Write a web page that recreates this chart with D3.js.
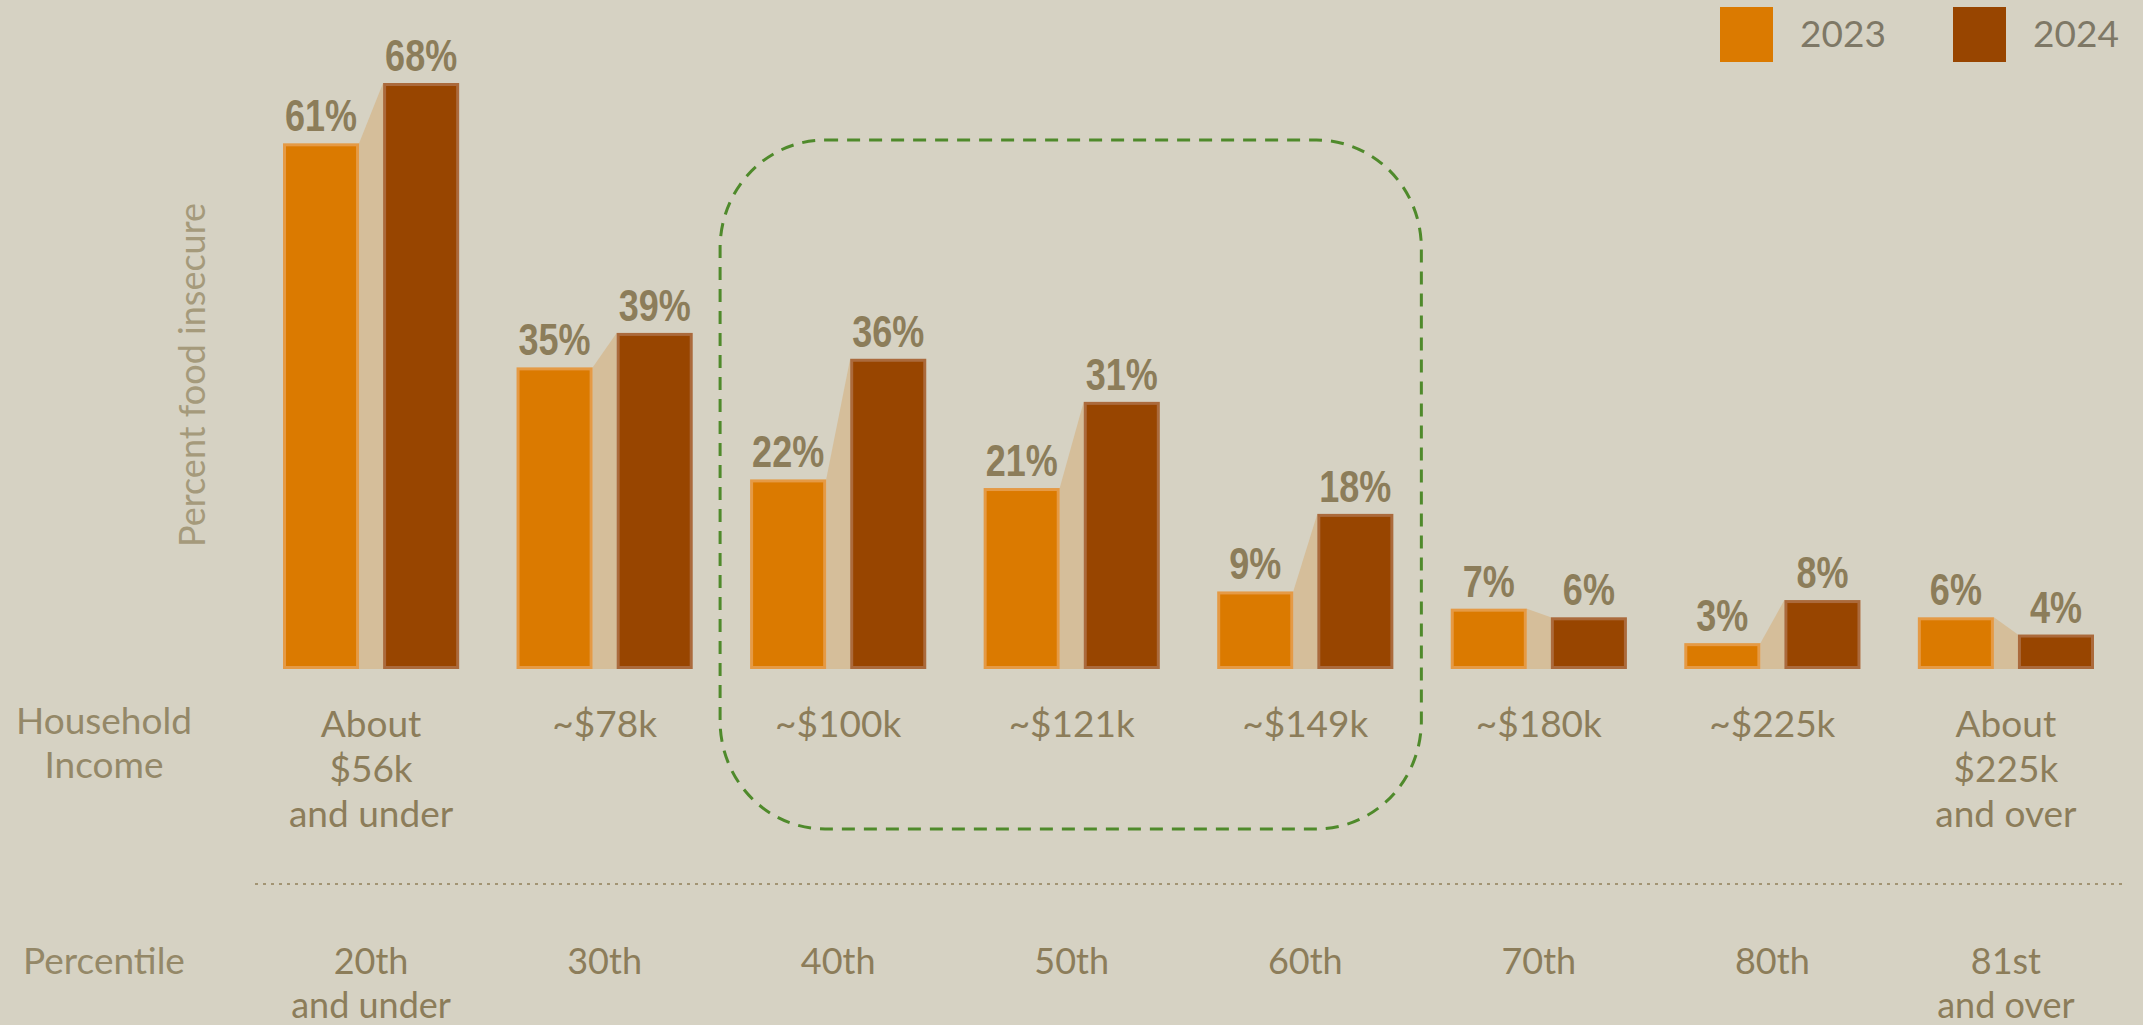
<!DOCTYPE html>
<html>
<head>
<meta charset="utf-8">
<script src="https://cdn.jsdelivr.net/npm/d3@7"></script>
<style>
  html, body { margin: 0; padding: 0; background: #d6d2c3; overflow: hidden; }
  svg { display: block; }
</style>
</head>
<body>
<svg id="chart" width="2143" height="1025"></svg>
<script>
const groupKeys = ["g1","g2","g3","g4","g5","g6","g7","g8"];
const incomeLabels = [["About","$56k","and under"],["~$78k"],["~$100k"],["~$121k"],["~$149k"],["~$180k"],["~$225k"],["About","$225k","and over"]];
const percentileLabels = [["20th","and under"],["30th"],["40th"],["50th"],["60th"],["70th"],["80th"],["81st","and over"]];
const seriesNames = ["2023","2024"];
const values2023 = [61,35,22,21,9,7,3,6];
const values2024 = [68,39,36,31,18,6,8,4];
const highlighted = ["g3","g4","g5"];

const colors = {"2023":"#db7a00","2024":"#984500"};
const edgeColors = {"2023":"#e59a45","2024":"#ab6a3c"};
const connectorColor = "#d5be9a";
const textColor = "#8c7d5a";

const svg = d3.select("#chart");
svg.append("rect").attr("width",2143).attr("height",1025).attr("fill","#d6d2c3");

const x = d3.scaleBand().domain(groupKeys).range([283, 2094]).paddingInner(0.2457).paddingOuter(0);
const xs = d3.scaleBand().domain(seriesNames).range([0, x.bandwidth()]).paddingInner(0.24).paddingOuter(0);
const y = d3.scaleLinear().domain([0, 68]).range([669, 83]);

const data = groupKeys.map((k,i) => ({key:k, v2023: values2023[i], v2024: values2024[i], income: incomeLabels[i], pct: percentileLabels[i]}));

// highlight box
const hx0 = x(highlighted[0]) - 30;
const hx1 = x(highlighted[highlighted.length-1]) + x.bandwidth() + 28;
svg.append("rect")
  .attr("x", hx0).attr("y", 140)
  .attr("width", hx1 - hx0).attr("height", 829 - 140)
  .attr("rx", 105).attr("ry", 108)
  .attr("fill","none").attr("stroke","#4f8a2b").attr("stroke-width",3)
  .attr("stroke-dasharray","13,9");

const g = svg.selectAll("g.grp").data(data).enter().append("g")
  .attr("class","grp").attr("transform", d => `translate(${x(d.key)},0)`);

// connectors
g.append("path")
  .attr("fill", connectorColor)
  .attr("d", d => {
    const xa = xs("2023") + xs.bandwidth();
    const xb = xs("2024");
    return `M${xa},${y(d.v2023)} L${xb},${y(d.v2024)} L${xb},${y(0)} L${xa},${y(0)} Z`;
  });

seriesNames.forEach(s => {
  const key = "v" + s;
  g.append("rect")
    .attr("x", xs(s)).attr("y", d => y(d[key]))
    .attr("width", xs.bandwidth()).attr("height", d => y(0) - y(d[key]))
    .attr("fill", edgeColors[s]);
  g.append("rect")
    .attr("x", xs(s) + 3).attr("y", d => y(d[key]) + 3)
    .attr("width", xs.bandwidth() - 6).attr("height", d => Math.max(0, y(0) - y(d[key]) - 6))
    .attr("fill", colors[s]);
  g.append("text")
    .attr("transform", d => `translate(${xs(s) + xs.bandwidth()/2},${y(d[key]) - 12}) scale(0.8,1)`)
    .attr("text-anchor","middle")
    .attr("font-family","'Liberation Sans', Arial, sans-serif")
    .attr("font-weight","bold")
    .attr("font-size",45)
    .attr("fill", textColor)
    .text(d => d[key] + "%");
});

// income labels
const lab = g.append("text")
  .attr("text-anchor","middle")
  .attr("font-family","Lato, 'Open Sans', sans-serif")
  .attr("font-size",37)
  .attr("fill", textColor);
lab.selectAll("tspan").data(d => d.income).enter().append("tspan")
  .attr("x", x.bandwidth()/2)
  .attr("y", (t,i) => 737 + i*45)
  .text(t => t);

const plab = g.append("text")
  .attr("text-anchor","middle")
  .attr("font-family","Lato, 'Open Sans', sans-serif")
  .attr("font-size",36)
  .attr("fill", textColor);
plab.selectAll("tspan").data(d => d.pct).enter().append("tspan")
  .attr("x", x.bandwidth()/2)
  .attr("y", (t,i) => 974 + i*43.5)
  .text(t => t);

// row headers
const hdr = svg.append("text").attr("text-anchor","middle")
  .attr("font-family","Lato, 'Open Sans', sans-serif").attr("font-size",37).attr("fill","#948868");
hdr.selectAll("tspan").data(["Household","Income"]).enter().append("tspan")
  .attr("x",104).attr("y",(t,i) => 734 + i*44).text(t => t);
svg.append("text").attr("text-anchor","middle").attr("x",104).attr("y",974)
  .attr("font-family","Lato, 'Open Sans', sans-serif").attr("font-size",37).attr("fill","#948868")
  .text("Percentile");

// dotted separator
svg.append("line").attr("x1",255).attr("x2",2125).attr("y1",884).attr("y2",884)
  .attr("stroke","#a29473").attr("stroke-width",2).attr("stroke-dasharray","3,5");

// y axis title
svg.append("text")
  .attr("transform","translate(205,375) rotate(-90)")
  .attr("text-anchor","middle")
  .attr("font-family","Lato, 'Open Sans', sans-serif")
  .attr("font-size",36)
  .attr("fill","#a59a7b")
  .text("Percent food insecure");

// legend
const legendX = {"2023":1720,"2024":1953};
seriesNames.forEach(s => {
  svg.append("rect").attr("x",legendX[s]).attr("y",7).attr("width",53).attr("height",55).attr("fill",colors[s]);
  svg.append("text").attr("x",legendX[s]+80).attr("y",47)
    .attr("font-family","Lato, 'Open Sans', sans-serif").attr("font-size",37)
    .attr("fill","#7e7866").text(s);
});
</script>
</body>
</html>
